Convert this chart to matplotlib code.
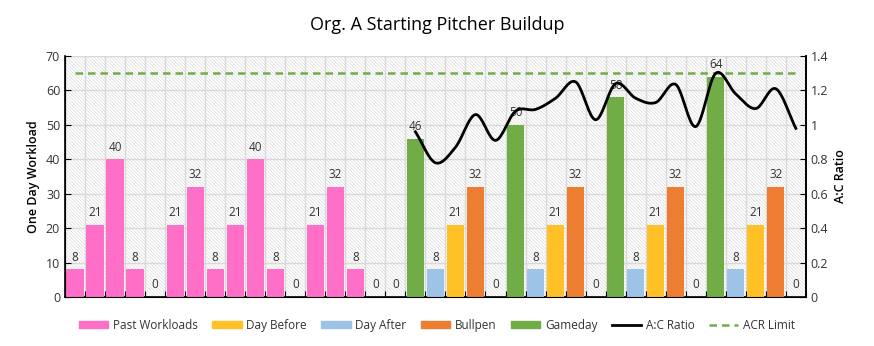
import numpy as np
import matplotlib
matplotlib.use("Agg")
import matplotlib.pyplot as plt
from matplotlib.patches import Patch, Rectangle
from matplotlib.lines import Line2D

# one day workload per day, and what kind of day it was
workload = [8, 21, 40, 8, 0, 21, 32, 8, 21, 40, 8, 0, 21, 32, 8, 0, 0,
            46, 8, 21, 32, 0,
            50, 8, 21, 32, 0,
            58, 8, 21, 32, 0,
            64, 8, 21, 32, 0]
day_type = (["Past Workloads"] * 17
            + ["Gameday", "Day After", "Day Before", "Bullpen", "Day After"] * 4)
# A:C ratio starts on the first gameday
acr_start = 17
acr = [0.96, 0.78, 0.87, 1.06, 0.91, 1.08, 1.09, 1.155, 1.25, 1.03,
       1.24, 1.155, 1.13, 1.235, 0.99, 1.30, 1.18, 1.095, 1.21, 0.98]
acr_limit = 1.3

colors = {
    "Past Workloads": "#ff6ec7",
    "Day Before": "#ffc125",
    "Day After": "#9dc3e6",
    "Bullpen": "#ed7d31",
    "Gameday": "#70ad47",
}

plt.rcParams["font.family"] = ["Open Sans", "DejaVu Sans"]
plt.rcParams["hatch.linewidth"] = 0.5


def smooth(x, y, n=20):
    # catmull-rom, roughly what excel does for "smoothed line"
    x = np.asarray(x, float)
    y = np.asarray(y, float)
    px = np.concatenate([[2 * x[0] - x[1]], x, [2 * x[-1] - x[-2]]])
    py = np.concatenate([[2 * y[0] - y[1]], y, [2 * y[-1] - y[-2]]])
    xs, ys = [], []
    t = np.linspace(0, 1, n, endpoint=False)
    for i in range(1, len(px) - 2):
        for p, out in ((px, xs), (py, ys)):
            p0, p1, p2, p3 = p[i - 1], p[i], p[i + 1], p[i + 2]
            out.extend(0.5 * ((2 * p1) + (-p0 + p2) * t
                              + (2 * p0 - 5 * p1 + 4 * p2 - p3) * t ** 2
                              + (-p0 + 3 * p1 - 3 * p2 + p3) * t ** 3))
    xs.append(x[-1])
    ys.append(y[-1])
    return xs, ys


fig = plt.figure(figsize=(8.74, 3.46), dpi=100)
ax = fig.add_axes([0.0744, 0.1416, 0.8476, 0.6964])

# hatched plot area
ax.add_patch(Rectangle((0, 0), 1, 1, transform=ax.transAxes, facecolor="white",
                       edgecolor="#dadada", hatch="\\" * 10, linewidth=0, zorder=0))

n = len(workload)
x = np.arange(n)
ax.bar(x, workload, width=0.86, color=[colors[t] for t in day_type], zorder=3)
for xi, v in zip(x, workload):
    ax.annotate(str(v), (xi, v), xytext=(0, 4), textcoords="offset points",
                ha="center", va="bottom", fontsize=8.5, color="#333333", zorder=4)

ax.set_xlim(-0.5, n - 0.5)
ax.set_ylim(0, 70)
ax.set_yticks(range(0, 71, 10))
ax.set_xticks(np.arange(-0.5, n, 1))
ax.set_xticklabels([])
ax.grid(True, color="#d9d9d9", linewidth=1, zorder=1)
ax.set_axisbelow(True)
ax.tick_params(axis="both", direction="in", length=4, labelsize=9, colors="black")
ax.tick_params(axis="y", labelcolor="#333333")
ax.set_ylabel("One Day Workload", fontsize=9, fontweight="semibold")
ax.spines["top"].set_visible(False)
for s in ["left", "bottom", "right"]:
    ax.spines[s].set_linewidth(1.2)

ax2 = ax.twinx()
sx, sy = smooth(np.arange(acr_start, acr_start + len(acr)), acr)
ax2.plot(sx, sy, color="black", linewidth=2, zorder=5)
ax2.axhline(acr_limit, xmin=0.5 / n, xmax=1 - 0.5 / n, color="#70ad47",
            linestyle=(0, (3, 2)), linewidth=1.8)
ax2.set_ylim(0, 1.4)
ax2.set_yticks(np.arange(0, 1.41, 0.2))
ax2.set_yticklabels(["0", "0.2", "0.4", "0.6", "0.8", "1", "1.2", "1.4"])
ax2.tick_params(axis="y", direction="in", length=4, labelsize=9, labelcolor="#333333")
ax2.set_ylabel("A:C Ratio", fontsize=9, fontweight="semibold")
ax2.spines["top"].set_visible(False)
ax2.spines["right"].set_linewidth(1.2)

fig.suptitle("Org. A Starting Pitcher Buildup", x=0.5, y=0.955, fontsize=13)

handles = [Patch(color=colors[k]) for k in
           ["Past Workloads", "Day Before", "Day After", "Bullpen", "Gameday"]]
handles += [Line2D([], [], color="black", linewidth=2),
            Line2D([], [], color="#70ad47", linestyle=(0, (3, 2)), linewidth=1.8)]
labels = ["Past Workloads", "Day Before", "Day After", "Bullpen", "Gameday",
          "A:C Ratio", "ACR Limit"]
fig.legend(handles, labels, loc="center", bbox_to_anchor=(0.5, 0.06), ncol=7,
           frameon=False, fontsize=8.5, handlelength=2.5, handleheight=0.6,
           columnspacing=1.2, handletextpad=0.4, labelcolor="#333333")

fig.savefig("out.png", dpi=100)
